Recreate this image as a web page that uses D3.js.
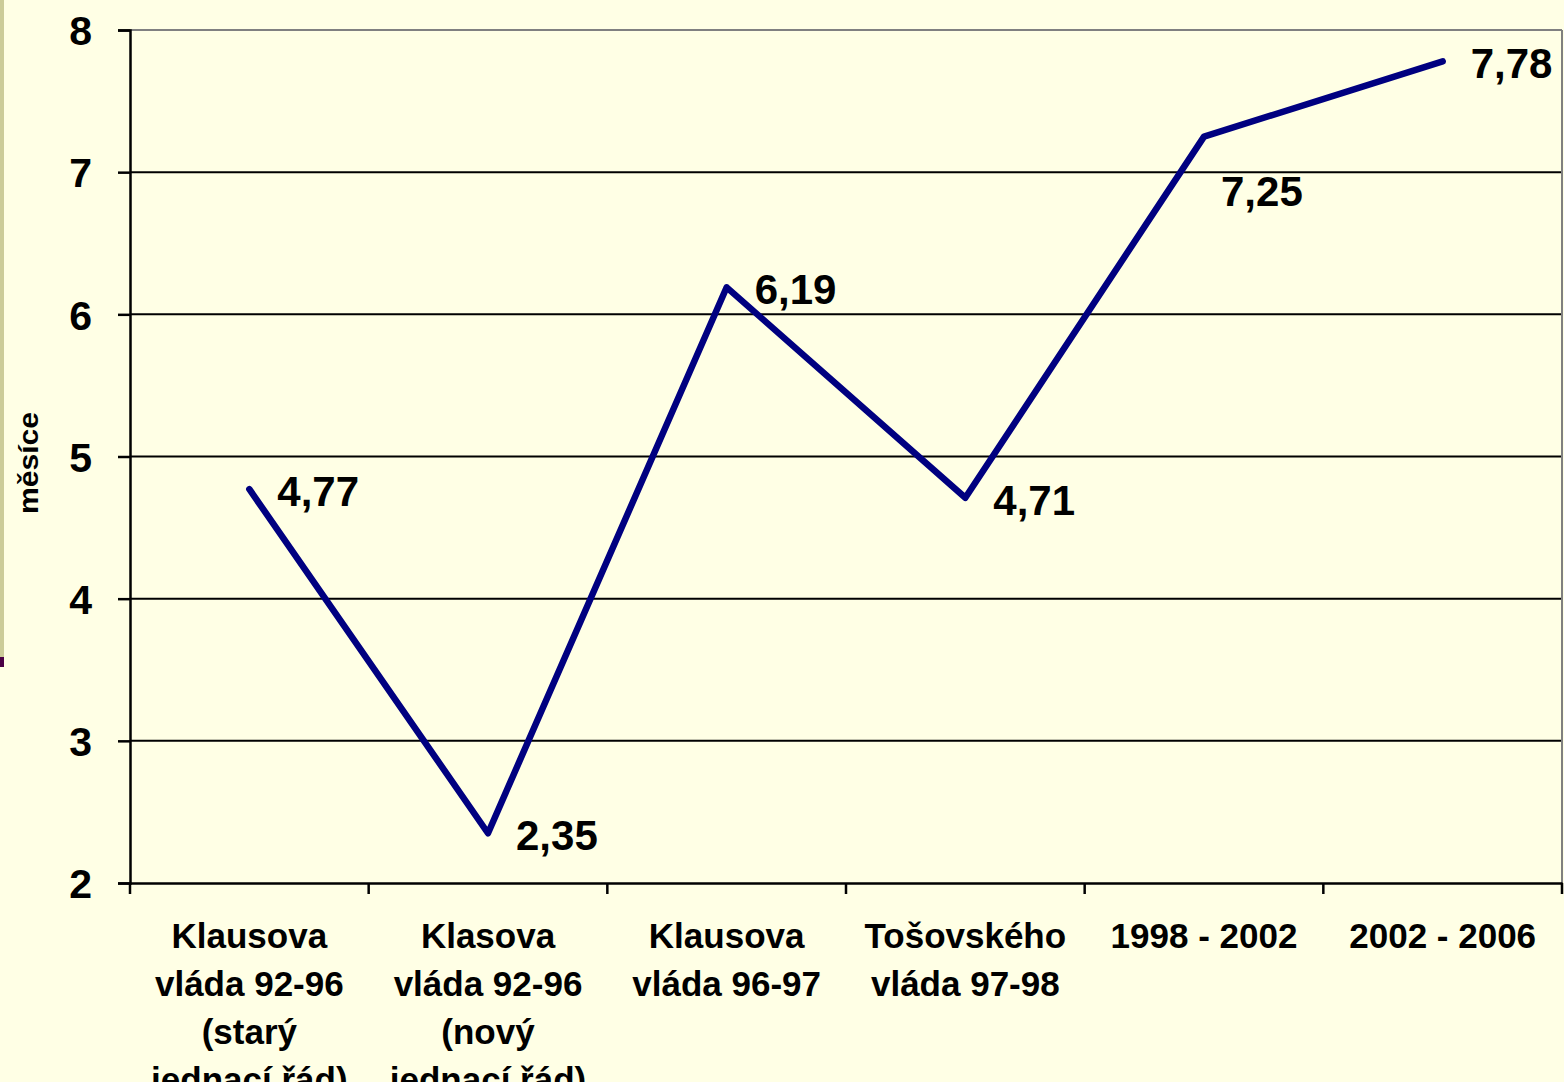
<!DOCTYPE html>
<html>
<head>
<meta charset="utf-8">
<script src="https://cdn.jsdelivr.net/npm/d3@7"></script>
<style>
  html, body { margin: 0; padding: 0; background: #FFFFE5; }
  svg { display: block; }
  text { font-family: "Liberation Sans", Arial, sans-serif; font-weight: bold; fill: #000; }
</style>
</head>
<body>
<svg id="chart" width="1564" height="1082"></svg>
<script>
const categories = [
  ["Klausova", "vláda 92-96", "(starý", "jednací řád)"],
  ["Klasova", "vláda 92-96", "(nový", "jednací řád)"],
  ["Klausova", "vláda 96-97"],
  ["Tošovského", "vláda 97-98"],
  ["1998 - 2002"],
  ["2002 - 2006"]
];
const values = [4.77, 2.35, 6.19, 4.71, 7.25, 7.78];
const valueLabels = ["4,77", "2,35", "6,19", "4,71", "7,25", "7,78"];
const yTicks = [2, 3, 4, 5, 6, 7, 8];
const yTitle = "měsíce";

(function () {
const svg = d3.select("#chart");
const W = 1564, H = 1082;
const mLeft = 130, mRight = 1562, mTop = 30, mBottom = 883;

svg.append("rect").attr("width", W).attr("height", H).attr("fill", "#FFFFE5");
// decorative left strip
svg.append("rect").attr("x", 0).attr("y", 0).attr("width", 4).attr("height", 657).attr("fill", "#CCCC99");
svg.append("rect").attr("x", 0).attr("y", 657).attr("width", 4).attr("height", 10).attr("fill", "#4B0045");

const ids = categories.map((c, i) => i);
const x = d3.scaleBand().domain(ids).range([mLeft, mRight]).paddingInner(0).paddingOuter(0);
const y = d3.scaleLinear().domain([2, 8]).range([mBottom, mTop]);

// gridlines
svg.append("g").selectAll("line").data(yTicks.filter(t => t > 2 && t < 8)).join("line")
  .attr("x1", mLeft).attr("x2", mRight)
  .attr("y1", d => y(d)).attr("y2", d => y(d))
  .attr("stroke", "#000").attr("stroke-width", 2);

// plot border (gray top/right)
svg.append("line").attr("x1", mLeft).attr("x2", mRight).attr("y1", mTop).attr("y2", mTop)
  .attr("stroke", "#808080").attr("stroke-width", 2);
svg.append("line").attr("x1", mRight).attr("x2", mRight).attr("y1", mTop).attr("y2", mBottom)
  .attr("stroke", "#808080").attr("stroke-width", 2);

// y axis
const yAxis = d3.axisLeft(y).tickValues(yTicks).tickSize(12).tickPadding(26).tickFormat(d3.format("d"));
const gy = svg.append("g").attr("transform", `translate(${mLeft},0)`).call(yAxis);
gy.select(".domain").attr("stroke", "#000").attr("stroke-width", 2.5);
gy.selectAll(".tick line").attr("stroke", "#000").attr("stroke-width", 2.5);
gy.selectAll(".tick text").style("font-size", "41px").style("font-family", "Liberation Sans, Arial, sans-serif")
  .style("font-weight", "bold").attr("fill", "#000").attr("dy", "0.36em");

// x axis
const xAxis = d3.axisBottom(x).tickSize(0).tickFormat(() => "");
const gx = svg.append("g").attr("transform", `translate(0,${mBottom})`).call(xAxis);
gx.select(".domain").attr("stroke", "#000").attr("stroke-width", 2.5);
const bounds = ids.map(i => x(i)).concat([mRight]);
svg.append("g").selectAll("line").data(bounds).join("line")
  .attr("x1", d => d).attr("x2", d => d).attr("y1", mBottom).attr("y2", mBottom + 11)
  .attr("stroke", "#000").attr("stroke-width", 2.5);

// category labels
const cx = i => x(i) + x.bandwidth() / 2;
const catG = svg.append("g");
categories.forEach((lines, i) => {
  const t = catG.append("text").attr("text-anchor", "middle").style("font-size", "35px");
  lines.forEach((ln, j) => {
    t.append("tspan").attr("x", cx(i)).attr("y", 935 + j * 48).attr("dy", "0.36em").text(ln);
  });
});

// y title
svg.append("text")
  .attr("transform", `translate(38,463) rotate(-90)`)
  .attr("text-anchor", "middle")
  .style("font-size", "27px")
  .attr("textLength", 102).attr("lengthAdjust", "spacingAndGlyphs")
  .text(yTitle);

// line
const line = d3.line().x((d, i) => cx(i)).y(d => y(d));
svg.append("path").datum(values).attr("d", line)
  .attr("fill", "none").attr("stroke", "#000080").attr("stroke-width", 6.5)
  .attr("stroke-linejoin", "round").attr("stroke-linecap", "round");

// data labels
const placement = ["right", "right", "right", "right", "below", "right"];
svg.append("g").selectAll("text").data(values).join("text")
  .attr("x", (d, i) => cx(i) + (placement[i] === "below" ? 17 : 28))
  .attr("y", (d, i) => y(d) + (placement[i] === "below" ? 54 : 2))
  .attr("dy", "0.36em")
  .style("font-size", "42px")
  .text((d, i) => valueLabels[i]);
})();
</script>
</body>
</html>
